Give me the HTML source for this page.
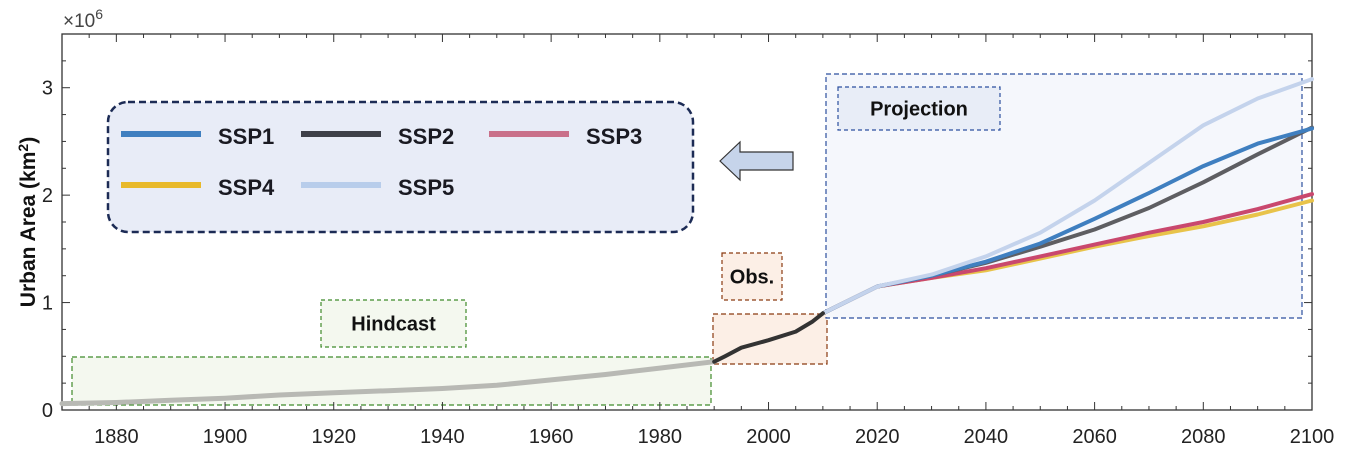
<!DOCTYPE html>
<html><head><meta charset="utf-8"><style>
html,body{margin:0;padding:0;background:#fff;}
svg{display:block;font-family:"Liberation Sans",Arial,sans-serif;}
</style></head><body>
<svg id="chart" width="1347" height="461" viewBox="0 0 1347 461">
<g id="bg"></g>
<g id="grid"></g>
<g id="marks"></g>
<g id="annot"></g>
</svg>
<script>
const hindYears=[1870,1880,1890,1900,1910,1920,1930,1940,1950,1960,1970,1980,1990];
const hindVals=[0.06,0.07,0.09,0.11,0.14,0.16,0.18,0.20,0.23,0.28,0.33,0.39,0.45];
const obsYears=[1990,1992,1995,2000,2005,2008,2010];
const obsVals=[0.45,0.50,0.58,0.65,0.73,0.82,0.90];
const projYears=[2010,2020,2030,2040,2050,2060,2070,2080,2090,2100];
const ssp1=[0.90,1.15,1.25,1.38,1.55,1.78,2.02,2.27,2.48,2.62];
const ssp2=[0.90,1.15,1.25,1.37,1.52,1.68,1.88,2.12,2.38,2.63];
const ssp3=[0.90,1.15,1.23,1.32,1.43,1.54,1.65,1.75,1.87,2.01];
const ssp4=[0.90,1.15,1.23,1.30,1.41,1.52,1.62,1.71,1.82,1.95];
const ssp5=[0.90,1.15,1.26,1.43,1.65,1.95,2.30,2.65,2.90,3.08];
const xTicks=[1880,1900,1920,1940,1960,1980,2000,2020,2040,2060,2080,2100];
const yTicks=[0,1,2,3];

const NS='http://www.w3.org/2000/svg';
const X0=62,X1=1312,Y0=410,Y1=34,XMIN=1870,XMAX=2100,YMAX=3.5;
const xs=v=>X0+(v-XMIN)/(XMAX-XMIN)*(X1-X0);
const ys=v=>Y0-v/YMAX*(Y0-Y1);
function mk(tag,attrs,parent,text){const e=document.createElementNS(NS,tag);for(const k in attrs)e.setAttribute(k,attrs[k]);if(text!==undefined)e.textContent=text;parent.appendChild(e);return e;}
const bg=document.getElementById('bg'),grid=document.getElementById('grid'),marks=document.getElementById('marks'),annot=document.getElementById('annot');

let r=mk('rect',{x:72,y:357,width:639,height:48,fill:'#f4f8ef',stroke:'#3f8a2a','stroke-width':1.2,'stroke-dasharray':'5,3'},bg);


r=mk('rect',{x:713,y:314,width:114,height:50,fill:'#fcefe6',stroke:'#8a3a10','stroke-width':1.2,'stroke-dasharray':'5,3'},bg);


r=mk('rect',{x:826,y:74,width:476,height:244,fill:'#f5f7fc',stroke:'#2c4f9e','stroke-width':1.2,'stroke-dasharray':'5,3'},bg);



let ax=mk('rect',{x:X0,y:Y1,width:X1-X0,height:Y0-Y1,fill:'none',stroke:'#333','stroke-width':1.3},grid);


for(let yr=1870;yr<=2100;yr+=5){
  const major=xTicks.includes(yr);const L=major?8:4;const x=xs(yr);
  mk('line',{x1:x,y1:Y0,x2:x,y2:Y0-L,stroke:'#333','stroke-width':1},grid);
  mk('line',{x1:x,y1:Y1,x2:x,y2:Y1+L,stroke:'#333','stroke-width':1},grid);
}
xTicks.forEach(t=>{const e=mk('text',{x:xs(t),y:443,'text-anchor':'middle','font-size':20,fill:'#222'},grid,String(t));

});
for(let v=0;v<=3.5;v+=0.25){const y=ys(v);const major=Math.abs(v-Math.round(v))<1e-9;const L=major?8:4;
  mk('line',{x1:X0,y1:y,x2:X0+L,y2:y,stroke:'#333','stroke-width':1},grid);
  mk('line',{x1:X1,y1:y,x2:X1-L,y2:y,stroke:'#333','stroke-width':1},grid);}
yTicks.forEach(t=>{const e=mk('text',{x:53,y:ys(t)+7,'text-anchor':'end','font-size':20,fill:'#222'},grid,String(t));

});
let ex=mk('text',{x:63,y:27,'font-size':19,fill:'#444'},grid);ex.innerHTML='×10<tspan dy="-8" font-size="14">6</tspan>';


let yl=mk('text',{transform:'translate(35,222) rotate(-90)','text-anchor':'middle','font-size':21,'font-weight':'bold',fill:'#111'},grid);
yl.innerHTML='Urban Area (km<tspan dy="-7" font-size="14">2</tspan><tspan dy="7">)</tspan>';



function line(xsArr,vals,color,w,name){const d=xsArr.map((t,i)=>(i?'L':'M')+xs(t).toFixed(1)+','+ys(vals[i]).toFixed(1)).join('');
 const p=mk('path',{d:d,fill:'none',stroke:color,'stroke-width':w,'stroke-linejoin':'round','stroke-linecap':'round'},marks);
 
 }
line(hindYears,hindVals,'#b8b9b4',5,'hindcast-line');
line(projYears,ssp4,'#e8c34a',4,'ssp4-line');
line(projYears,ssp3,'#c9486e',4,'ssp3-line');
line(projYears,ssp2,'#5e5e62',4,'ssp2-line');
line(projYears,ssp1,'#3f7fc0',4,'ssp1-line');
line(projYears,ssp5,'#c4d3ec',4,'ssp5-line');
line(obsYears,obsVals,'#333',4,'observed-line');

function lbox(x,y,w,h,fill,stroke,text,name){const g=mk('g',{},annot);
 mk('rect',{x:x,y:y,width:w,height:h,fill:fill,stroke:stroke,'stroke-width':1.2,'stroke-dasharray':'4,3'},g);
 mk('text',{x:x+w/2,y:y+h/2+7,'text-anchor':'middle','font-size':20,'font-weight':'bold',fill:'#111'},g,text);}
lbox(321,300,145,47,'#f4f8ef','#3f8a2a','Hindcast','hindcast-label');
lbox(722,253,60,47,'#fcefe6','#8a3a10','Obs.','obs-label');
lbox(838,87,162,43,'#e8edf7','#2c4f9e','Projection','projection-label');

const lg=mk('g',{},annot);
mk('rect',{x:108,y:102,width:585,height:130,rx:20,fill:'#e8ecf7',stroke:'#1c2b55','stroke-width':2.5,'stroke-dasharray':'7,4'},lg);
const legNames=['SSP1','SSP2','SSP3','SSP4','SSP5'];
const legColors=['#3f7fc0','#3e4049','#c9708a','#e8b92a','#b8cdeb'];
const legPos=[[121,150],[301,150],[489,150],[121,201],[301,201]];
legNames.forEach((n,i)=>{const [x,y]=legPos[i];const g=mk('g',{},lg);
 mk('line',{x1:x,y1:y-16,x2:x+80,y2:y-16,stroke:legColors[i],'stroke-width':6},g);
 mk('text',{x:x+97,y:y-6,'font-size':22,'font-weight':'bold',fill:'#1a1a22'},g,n);});

let ar=mk('path',{d:'M720,161 L740,142 L740,152 L793,152 L793,170 L740,170 L740,180 Z',fill:'#c6d4ea',stroke:'#333','stroke-width':1.2},annot);


</script>
</body></html>
